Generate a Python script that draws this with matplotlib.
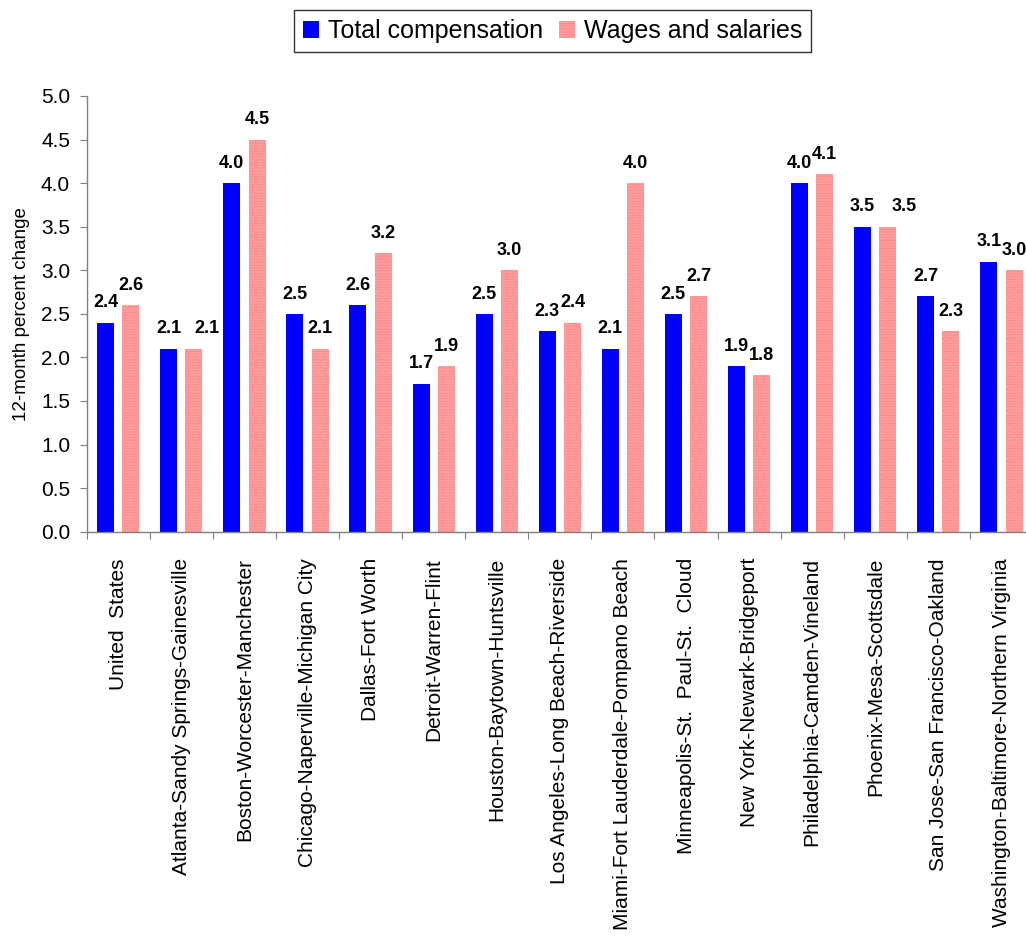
import matplotlib

matplotlib.use("Agg")
import matplotlib.pyplot as plt
from matplotlib.patches import Patch
import numpy as np

areas = [
    "United  States",
    "Atlanta-Sandy Springs-Gainesville",
    "Boston-Worcester-Manchester",
    "Chicago-Naperville-Michigan City",
    "Dallas-Fort Worth",
    "Detroit-Warren-Flint",
    "Houston-Baytown-Huntsville",
    "Los Angeles-Long Beach-Riverside",
    "Miami-Fort Lauderdale-Pompano Beach",
    "Minneapolis-St.  Paul-St.  Cloud",
    "New York-Newark-Bridgeport",
    "Philadelphia-Camden-Vineland",
    "Phoenix-Mesa-Scottsdale",
    "San Jose-San Francisco-Oakland",
    "Washington-Baltimore-Northern Virginia",
]
total_comp = [2.4, 2.1, 4.0, 2.5, 2.6, 1.7, 2.5, 2.3, 2.1, 2.5, 1.9, 4.0, 3.5, 2.7, 3.1]
wages = [2.6, 2.1, 4.5, 2.1, 3.2, 1.9, 3.0, 2.4, 4.0, 2.7, 1.8, 4.1, 3.5, 2.3, 3.0]
y_ticks = [0.0, 0.5, 1.0, 1.5, 2.0, 2.5, 3.0, 3.5, 4.0, 4.5, 5.0]

FONT = "Liberation Sans"
BLUE = "#0000ff"
PINK = "#ff9090"
PINK_DOTS = "#ffb4b4"
GREY = "#808080"

plt.rcParams["font.family"] = [FONT, "DejaVu Sans"]
plt.rcParams["hatch.linewidth"] = 0.6

fig = plt.figure(figsize=(10.26, 9.39), dpi=100)
# the plot area runs slightly past the right edge, as in the original
ax = fig.add_axes([0.0845, 0.4338, 0.9223, 0.4640])

x = np.arange(len(areas))
width = 0.27
blue_bars = ax.bar(x - 0.2, total_comp, width=width, color=BLUE, linewidth=0)
pink_bars = ax.bar(
    x + 0.2, wages, width=width, facecolor=PINK, edgecolor=PINK_DOTS,
    hatch="......", linewidth=0,
)

# a couple of labels sit off-centre in the original
nudge = {("wages", 1): 9, ("wages", 12): 12}

for name, bars, values in (("total", blue_bars, total_comp), ("wages", pink_bars, wages)):
    for i, (bar, value) in enumerate(zip(bars, values)):
        ax.annotate(
            f"{value:.1f}",
            (bar.get_x() + bar.get_width() / 2, value),
            xytext=(nudge.get((name, i), 0), 11),
            textcoords="offset points",
            ha="center",
            va="baseline",
            fontsize=13,
            fontweight="bold",
            annotation_clip=False,
        )

ax.set_xlim(-0.5, len(areas) - 0.5)
ax.set_ylim(0, 5.0)
ax.set_yticks(y_ticks)
ax.set_yticklabels([f"{v:.1f}" for v in y_ticks], fontsize=15)
ax.set_xticks(np.arange(len(areas) + 1) - 0.5)
ax.set_xticklabels([])
ax.set_xticks(x, minor=True)
ax.set_xticklabels(areas, minor=True, rotation=90, fontsize=15, va="top", ha="center")
ax.tick_params(axis="x", which="minor", length=0, pad=19)
ax.tick_params(axis="x", which="major", length=5, direction="out", color=GREY)
ax.tick_params(axis="y", length=5, direction="out", color=GREY, pad=7)
ax.set_ylabel("12-month percent change", fontsize=13.5, labelpad=8)

for side in ("top", "right"):
    ax.spines[side].set_visible(False)
for side in ("left", "bottom"):
    ax.spines[side].set_color(GREY)
    ax.spines[side].set_linewidth(1.0)

handles = [
    Patch(facecolor=BLUE, linewidth=0, label="Total compensation"),
    Patch(facecolor=PINK, edgecolor=PINK_DOTS, hatch="......", linewidth=0, label="Wages and salaries"),
]
legend = fig.legend(
    handles=handles,
    loc="center",
    bbox_to_anchor=(0.5385, 0.967),
    ncol=2,
    fontsize=18,
    frameon=True,
    fancybox=False,
    edgecolor="black",
    handlelength=0.65,
    handleheight=0.65,
    handletextpad=0.35,
    columnspacing=0.65,
    borderpad=0.35,
)
legend.get_frame().set_linewidth(1.0)

fig.savefig("out.png", dpi=100)
